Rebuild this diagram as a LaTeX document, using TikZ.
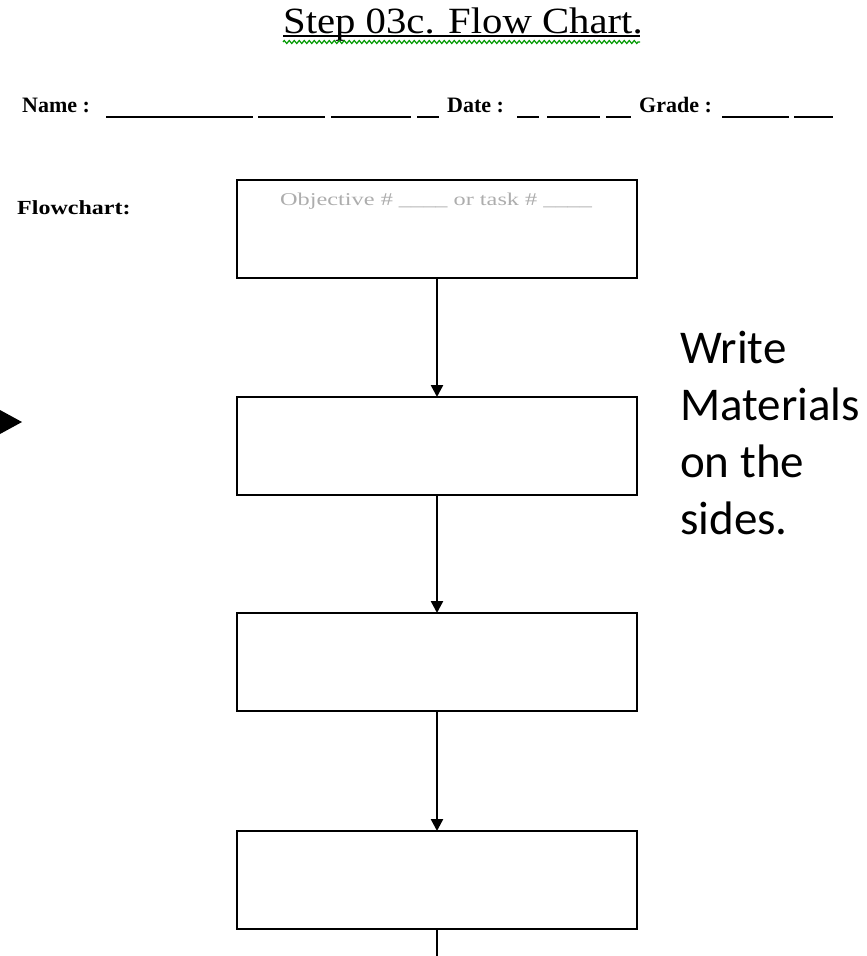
\documentclass[tikz,border=0pt]{standalone}
\usepackage{fontspec}
\setmainfont{Liberation Serif}
\newfontfamily\calfont{Carlito}
\usetikzlibrary{arrows.meta,decorations.pathmorphing}
\begin{document}
\begin{tikzpicture}[x=1pt,y=-1pt,
  flowbox/.style={draw,line width=2.5pt,minimum width=400pt,minimum height=98pt,inner sep=0pt,outer sep=0pt,anchor=north west},
  flowarrow/.style={line width=2.5pt,-{Triangle[width=12pt,length=12pt]}},
  blankline/.style={line width=2.2pt},
  lbl/.style={inner sep=0pt,anchor=base west}]
\useasboundingbox (0,0) rectangle (867,956);
% title
\node[lbl] (title) at (283,33) {\fontsize{37}{40}\selectfont\scalebox{1.1}[1]{Step 03c. Flow Chart.}};
\draw[line width=1.2pt] (283,36) -- (640,36);
\draw[green!60!black,line width=1.2pt,decorate,decoration={zigzag,segment length=5pt,amplitude=1.5pt}] (283,42) -- (640,42);
% name line
\node[lbl] (name) at (22,112) {\fontsize{22}{24}\selectfont\bfseries Name :};
\node[lbl] (date) at (447,112) {\fontsize{22}{24}\selectfont\bfseries Date :};
\node[lbl] (grade) at (639,112) {\fontsize{22}{24}\selectfont\bfseries Grade :};
\foreach \a/\b in {106/253,258/325,331/411,417/439,517/539,547/600,606/631,722/789,794/833}
  \draw[blankline] (\a,117) -- (\b,117);
% flowchart label
\node[lbl] (flow) at (17,214) {\fontsize{20}{22}\selectfont\bfseries\scalebox{1.2}[1]{Flowchart:}};
% boxes
\node[flowbox] (b1) at (237,180) {};
\node[flowbox] (b2) at (237,397) {};
\node[flowbox] (b3) at (237,613) {};
\node[flowbox] (b4) at (237,831) {};
\node[lbl,text=black!32] (obj) at (280,205) {\fontsize{18}{20}\selectfont\scalebox{1.35}[1]{Objective \# \_\_\_\_ or task \# \_\_\_\_}};
% arrows
\draw[flowarrow] (b1.south) -- (b2.north);
\draw[flowarrow] (b2.south) -- (b3.north);
\draw[flowarrow] (b3.south) -- (b4.north);
\coordinate (bend) at (437,960);
\draw[line width=2.5pt] (b4.south) -- (b4.south |- bend);
% left arrow tip
\fill (0,410) -- (22,422) -- (0,434) -- cycle;
% right text
\node[lbl,align=left,font=\calfont\fontsize{47}{57}\selectfont] (side) at (680,534) {Write\\Materials\\on the\\sides.};
\end{tikzpicture}
\end{document}
